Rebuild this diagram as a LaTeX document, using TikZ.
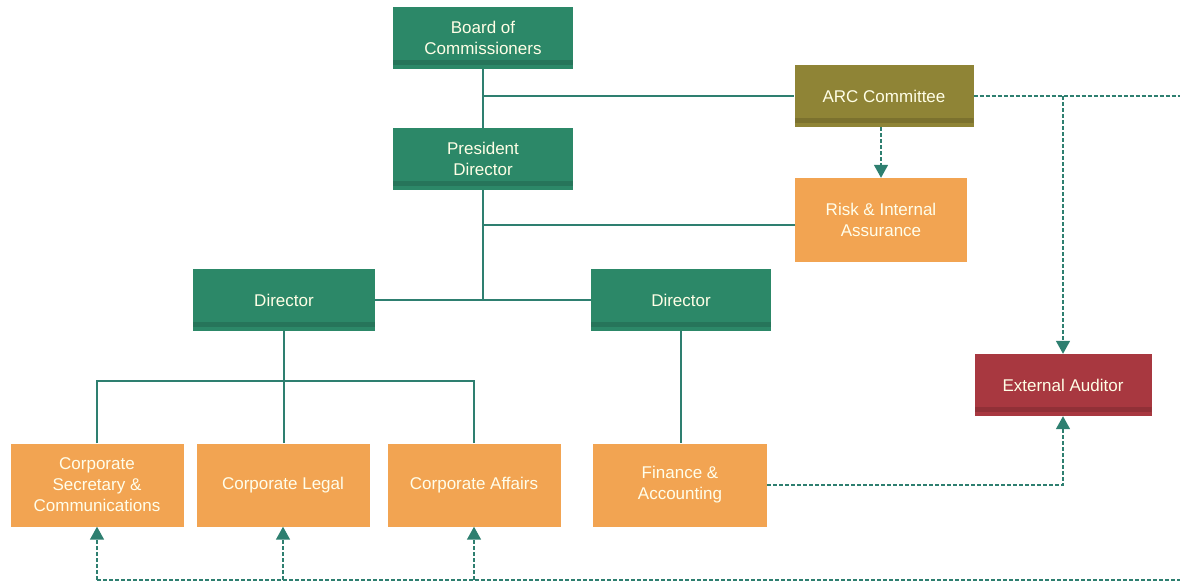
\documentclass[tikz,border=0pt]{standalone}
\usepackage{fontspec}
\setmainfont{Liberation Sans}
\usetikzlibrary{arrows.meta}

\definecolor{boardgreen}{RGB}{44,136,104}
\definecolor{arcolive}{RGB}{143,132,54}
\definecolor{unitorange}{RGB}{242,164,82}
\definecolor{auditred}{RGB}{168,56,64}
\definecolor{linkteal}{RGB}{46,127,112}

\tikzset{
          head/.style = {fill = #1, rectangle, minimum width = 180pt, minimum height = 62pt, inner sep = 0pt,
                         text = white!90!yellow, align = center, font = \fontsize{17}{21}\selectfont,
                         path picture = {\fill[#1!70!black, opacity = 0.45]
                           ([yshift=4pt]path picture bounding box.south west) rectangle
                           ([yshift=9pt]path picture bounding box.south east);}},
          unit/.style = {fill = unitorange, rectangle, minimum width = 173pt, minimum height = 83pt, inner sep = 0pt,
                         text = white!92!yellow, align = center, font = \fontsize{17}{21}\selectfont},
          wire/.style = {draw = linkteal, line width = 1.7pt},
          link/.style = {draw = linkteal, line width = 1.5pt, dash pattern = on 4pt off 2pt,
                         >={Triangle[width=14pt,length=13pt]}}
        }

\begin{document}
\begin{tikzpicture}[x=1pt,y=-1pt]
          \useasboundingbox (0,0) rectangle (1180,586);

          \node[head=boardgreen] (board) at (483,38) {Board of\\Commissioners};
          \node[head=arcolive, minimum width=179pt] (arc) at (884,96) {ARC Committee};
          \node[head=boardgreen] (pres) at (483,159) {President\\Director};
          \node[unit, minimum width=172pt, minimum height=84pt] (risk) at (881,220) {Risk \& Internal\\Assurance};

          \node[head=boardgreen, minimum width=182pt] (dirl) at (284,300) {Director};
          \node[head=boardgreen] (dirr) at (681,300) {Director};
          \node[head=auditred, minimum width=177pt] (audit) at (1063,385) {External Auditor};

          \node[unit] (sec) at (97,485) {Corporate\\Secretary \&\\Communications};
          \node[unit] (legal) at (283,485) {Corporate Legal};
          \node[unit] (affairs) at (474,485) {Corporate Affairs};
          \node[unit, minimum width=174pt] (fin) at (680,485) {Finance \&\\Accounting};

          \coordinate (riskIn) at ([yshift=-5pt]risk.west);
          \coordinate (fork) at (283,381);
          \coordinate (eastTop) at (1180,97);
          \coordinate (bottom) at (97,580);
          \coordinate (eastBottom) at (1180,580);

          % solid reporting lines
          \draw[wire] (board) -- (pres);
          \draw[wire] (board |- arc) -- (arc);
          \draw[wire] (pres) -- (pres |- dirl);
          \draw[wire] (pres |- riskIn) -- (riskIn);
          \draw[wire] (dirl) -- (dirr);
          \draw[wire] (dirl) -- (dirl |- legal.north);
          \draw[wire] (sec.north) |- (fork) -| (affairs.north);
          \draw[wire] (dirr) -- (dirr |- fin.north);

          % dashed lines
          \draw[link, ->] (arc.south -| risk) -- (risk);
          \draw[link] (arc.east) -- (arc.east -| eastTop);
          \draw[link, ->] (audit |- arc) -- (audit);
          \draw[link, ->] (fin) -| (audit);
          \draw[link] (bottom) -- (eastBottom);
          \foreach \n in {sec,legal,affairs}{
            \draw[link, ->] (\n |- bottom) -- (\n);
          }
\end{tikzpicture}
\end{document}
